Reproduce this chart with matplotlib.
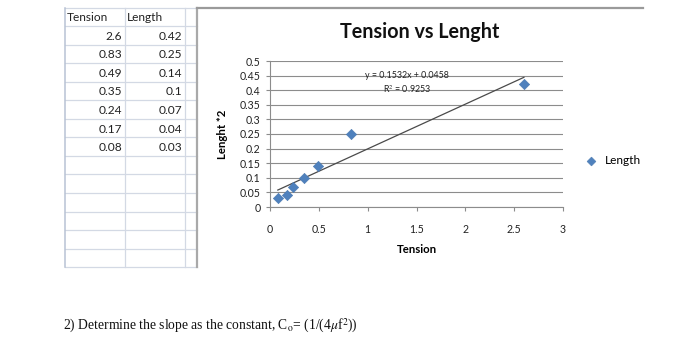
import numpy as np
import matplotlib
matplotlib.use("Agg")
import matplotlib.pyplot as plt

# worksheet values
tension = [2.6, 0.83, 0.49, 0.35, 0.24, 0.17, 0.08]
length = [0.42, 0.25, 0.14, 0.1, 0.07, 0.04, 0.03]
tension_txt = ["2.6", "0.83", "0.49", "0.35", "0.24", "0.17", "0.08"]
length_txt = ["0.42", "0.25", "0.14", "0.1", "0.07", "0.04", "0.03"]

# trendline from the sheet
slope, intercept, r2 = 0.1532, 0.0458, 0.9253

x_ticks = [0, 0.5, 1, 1.5, 2, 2.5, 3]
y_ticks = [0, 0.05, 0.1, 0.15, 0.2, 0.25, 0.3, 0.35, 0.4, 0.45, 0.5]

W, H = 700, 344
plt.rcParams["font.family"] = ["Lato", "DejaVu Sans"]
plt.rcParams["mathtext.fontset"] = "stix"

fig = plt.figure(figsize=(W / 100, H / 100), dpi=100)
fig.patch.set_facecolor("white")

# background layer in pixel coords for the sheet grid
bg = fig.add_axes([0, 0, 1, 1])
bg.set_xlim(0, W)
bg.set_ylim(H, 0)
bg.axis("off")

grid_c = "#d3d9e4"
row_h = 18.55
top = 7.5
rows = [top + i * row_h for i in range(15)]
for y in rows:
    bg.plot([65, 197], [y, y], color=grid_c, lw=0.9)
for x in [125, 185]:
    bg.plot([x, x], [top, rows[-1]], color=grid_c, lw=0.9)
bg.plot([65, 65], [top, rows[-1]], color="#b8c2d4", lw=1.1)
# chart frame edge
bg.plot([197, 197], [top, rows[-1]], color="#a9a9a9", lw=1.6)
bg.plot([197, 643], [top, top], color="#9a9a9a", lw=1.6)

cell_kw = dict(fontsize=8.6, color="#222222", va="center")
bg.text(67, top + row_h / 2 + 1, "Tension", ha="left", **cell_kw)
bg.text(127, top + row_h / 2 + 1, "Length", ha="left", **cell_kw)
for i in range(len(tension_txt)):
    yc = top + (i + 1.5) * row_h + 1
    bg.text(122, yc, tension_txt[i], ha="right", **cell_kw)
    bg.text(182, yc, length_txt[i], ha="right", **cell_kw)

# question text under the sheet
bg.text(63, 326, r"2) Determine the slope as the constant, C$_{\mathrm{o}}$= (1/(4$\mu$f$^{2}$))",
        fontsize=9.8, family="Liberation Serif", ha="left", va="center", color="#111111")

# chart
x0, x1, y0, y1 = 270, 563, 61, 207
ax = fig.add_axes([x0 / W, 1 - y1 / H, (x1 - x0) / W, (y1 - y0) / H])
ax.set_xlim(0, 3)
ax.set_ylim(0, 0.5)
ax.set_xticks(x_ticks)
ax.set_xticklabels(["0", "0.5", "1", "1.5", "2", "2.5", "3"])
ax.set_yticks(y_ticks)
ax.set_yticklabels(["0", "0.05", "0.1", "0.15", "0.2", "0.25", "0.3", "0.35", "0.4", "0.45", "0.5"])
ax.yaxis.grid(True, color="#8c8c8c", lw=0.8)
ax.set_axisbelow(True)
for s in ["top", "right"]:
    ax.spines[s].set_visible(False)
for s in ["left", "bottom"]:
    ax.spines[s].set_color("#8c8c8c")
    ax.spines[s].set_linewidth(0.8)
ax.tick_params(axis="both", labelsize=7.6, colors="#8c8c8c", labelcolor="#222222",
               length=3, width=0.8, direction="out")
ax.tick_params(axis="x", pad=9)
ax.tick_params(axis="y", pad=4)

ax.scatter(tension, length, marker="D", s=28, color="#4f81bd", zorder=3,
           edgecolors="#4a78b0", linewidths=0.4, clip_on=False, label="Length")

xs = np.array([min(tension), max(tension)])
ax.plot(xs, slope * xs + intercept, color="#4a4a4a", lw=0.9, zorder=2)

ax.text(1.4, 0.451, "y = 0.1532x + 0.0458", fontsize=6.4, ha="center", va="center", color="#222222")
ax.text(1.4, 0.402, "R$^{2}$ = 0.9253", fontsize=6.4, ha="center", va="center", color="#222222")

ax.set_xlabel("Tension", fontsize=8.2, fontweight="bold", labelpad=7)
ax.set_ylabel("Lenght *2", fontsize=8.2, fontweight="bold", labelpad=8)

fig.text(420 / W, 1 - 32 / H, "Tension vs Lenght", fontsize=14.2, fontweight="bold",
         ha="center", va="center", color="#111111")

ax.legend(loc="center left", bbox_to_anchor=(1.04, 0.32), frameon=False,
          fontsize=8.6, handletextpad=0.1, borderaxespad=0, markerscale=0.85)

fig.savefig("out.png", dpi=100, facecolor="white")
